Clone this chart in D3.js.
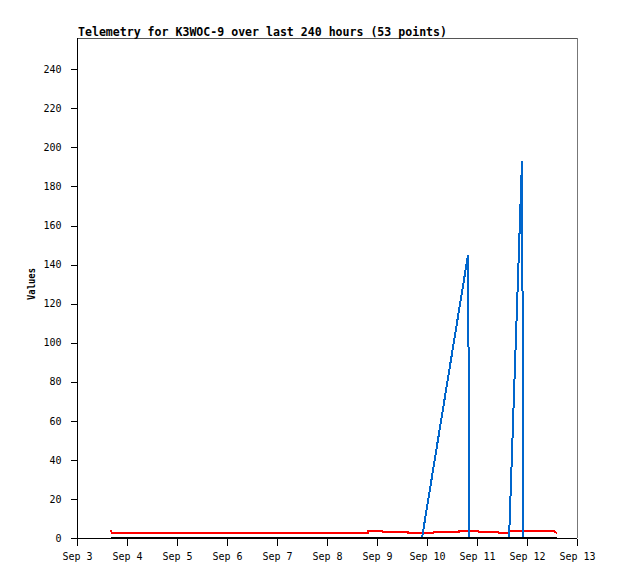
<!DOCTYPE html>
<html>
<head>
<meta charset="utf-8">
<script src="https://cdn.jsdelivr.net/npm/d3@7"></script>
<style>
  html, body { margin: 0; padding: 0; background: #fff; }
  svg { display: block; }
  text { font-family: "DejaVu Sans Mono", "Liberation Mono", monospace; fill: #000; }
</style>
</head>
<body>
<svg id="chart" width="618" height="579"></svg>
<script>
// ---- data ----
const titleText = "Telemetry for K3WOC-9 over last 240 hours (53 points)";
const yLabel = "Values";
const xDomain = ["2023-09-03 00:00", "2023-09-13 00:00"];
const yDomain = [0, 256];
const yTicks = [0, 20, 40, 60, 80, 100, 120, 140, 160, 180, 200, 220, 240];

const redTimes = ["2023-09-03 16:18", "2023-09-03 16:48", "2023-09-08 19:42", "2023-09-08 19:54",
  "2023-09-09 02:24", "2023-09-09 02:36", "2023-09-09 14:54", "2023-09-09 15:06",
  "2023-09-10 02:54", "2023-09-10 03:06", "2023-09-10 15:24", "2023-09-10 15:36",
  "2023-09-11 00:30", "2023-09-11 00:42", "2023-09-11 10:06", "2023-09-11 10:18",
  "2023-09-11 15:24", "2023-09-11 15:36", "2023-09-12 12:30", "2023-09-12 14:24"];
const redValues = [4.0, 2.5, 2.5, 3.7, 3.7, 3.1, 3.1, 2.4, 2.4, 3.1, 3.1, 3.8,
  3.8, 3.1, 3.1, 2.5, 2.5, 3.8, 3.8, 2.5];

const blueTimes = ["2023-09-03 16:18", "2023-09-09 21:36", "2023-09-10 19:42", "2023-09-10 20:24",
  "2023-09-11 15:24", "2023-09-11 21:36", "2023-09-11 22:18", "2023-09-12 14:24"];
const blueValues = [0, 0, 145, 0, 0, 193, 0, 0];

const blackTimes = ["2023-09-03 16:18", "2023-09-12 14:24"];
const blackValues = [0, 0];

// ---- layout ----
const parse = d3.timeParse("%Y-%m-%d %H:%M");
const L = 77, R = 577, T = 38, B = 538;
const svg = d3.select("#chart");

const x = d3.scaleTime().domain(xDomain.map(parse)).range([L, R]);
const y = d3.scaleLinear().domain(yDomain).range([B, T]);

// frame (top/right grey)
svg.append("line").attr("x1", L).attr("x2", R).attr("y1", T + 0.5).attr("y2", T + 0.5)
  .attr("stroke", "#555").attr("stroke-width", 1);
svg.append("line").attr("x1", R + 0.5).attr("x2", R + 0.5).attr("y1", T).attr("y2", B)
  .attr("stroke", "#777").attr("stroke-width", 1);

// axes
const xAxis = d3.axisBottom(x)
  .ticks(d3.timeDay.every(1))
  .tickFormat(d3.timeFormat("Sep %-d"))
  .tickSize(7).tickPadding(7).tickSizeOuter(0);
const gx = svg.append("g").attr("transform", `translate(0,${B + 0.5})`).call(xAxis);
gx.select(".domain").remove();

const yAxis = d3.axisLeft(y).tickValues(yTicks).tickSize(7).tickPadding(9).tickSizeOuter(0);
const gy = svg.append("g").attr("transform", `translate(${L + 0.5},0)`).call(yAxis);
gy.select(".domain").remove();

[gx, gy].forEach(g => {
  g.selectAll("text").style("font-family", '"DejaVu Sans Mono", monospace').style("font-size", "10px").attr("fill", "#000");
  g.selectAll("line").attr("stroke", "#000");
});
gy.selectAll(".tick line").attr("shape-rendering", "crispEdges");
gx.selectAll(".tick line").attr("shape-rendering", "crispEdges");

// left & bottom axis lines
svg.append("line").attr("x1", L + 0.5).attr("x2", L + 0.5).attr("y1", T).attr("y2", B + 1)
  .attr("stroke", "#000").attr("stroke-width", 1);
svg.append("line").attr("x1", L).attr("x2", R).attr("y1", B + 0.5).attr("y2", B + 0.5)
  .attr("stroke", "#000").attr("stroke-width", 1);

// series
const line = d3.line().x(d => x(d[0])).y(d => y(d[1]));
function series(times, values, color) {
  const pts = times.map((t, i) => [parse(t), values[i]]);
  svg.append("path").datum(pts).attr("d", line)
    .attr("fill", "none").attr("stroke", color).attr("stroke-width", 2)
    .attr("stroke-linejoin", "miter").attr("shape-rendering", "crispEdges");
}
series(redTimes, redValues, "#ff0000");
series(blueTimes, blueValues, "#0066cc");
series(blackTimes, blackValues, "#000000");

// title
svg.append("text").attr("x", 78).attr("y", 36)
  .attr("font-size", "11.5px").attr("font-weight", "bold")
  .attr("textLength", 369).attr("lengthAdjust", "spacingAndGlyphs")
  .text(titleText);

// y label
svg.append("text")
  .attr("transform", `translate(35,284) rotate(-90)`)
  .attr("text-anchor", "middle")
  .attr("font-size", "10.5px").attr("font-weight", "bold")
  .attr("textLength", 32).attr("lengthAdjust", "spacingAndGlyphs")
  .text(yLabel);
</script>
</body>
</html>
